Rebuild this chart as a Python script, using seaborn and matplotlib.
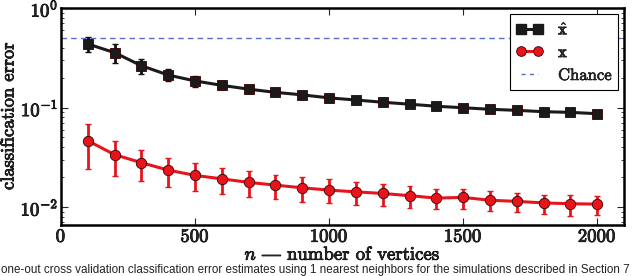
import numpy as np
import pandas as pd
import matplotlib
matplotlib.use("Agg")
import matplotlib.pyplot as plt
import matplotlib.patheffects as pe
from matplotlib.lines import Line2D
import seaborn as sns

n_vertices = [100, 200, 300, 400, 500, 600, 700, 800, 900, 1000,
              1100, 1200, 1300, 1400, 1500, 1600, 1700, 1800, 1900, 2000]

xhat_err = [0.435, 0.356, 0.263, 0.212, 0.185, 0.167, 0.153, 0.142, 0.134, 0.125,
            0.119, 0.113, 0.108, 0.103, 0.0995, 0.096, 0.0937, 0.0908, 0.0894, 0.0867]
xhat_lo = [0.359, 0.278, 0.217, 0.185, 0.162, 0.152, 0.141, 0.133, 0.127, 0.119,
           0.114, 0.109, 0.104, 0.0995, 0.0963, 0.0932, 0.091, 0.0884, 0.0872, 0.0847]
xhat_hi = [0.515, 0.431, 0.307, 0.244, 0.207, 0.183, 0.166, 0.152, 0.142, 0.131,
           0.124, 0.117, 0.112, 0.107, 0.103, 0.099, 0.0965, 0.0933, 0.0917, 0.0888]

x_err = [0.0464, 0.0336, 0.0279, 0.0235, 0.0208, 0.0192, 0.0177, 0.0166, 0.0156, 0.0148,
         0.0142, 0.0137, 0.0130, 0.0123, 0.0125, 0.0117, 0.0114, 0.0110, 0.0108, 0.0107]
x_lo = [0.0239, 0.0205, 0.0181, 0.0158, 0.0144, 0.0135, 0.0127, 0.0121, 0.0112, 0.0109,
        0.0106, 0.0103, 0.0098, 0.0095, 0.0096, 0.0092, 0.0089, 0.0085, 0.0081, 0.0083]
x_hi = [0.0683, 0.0464, 0.0374, 0.0310, 0.0275, 0.0249, 0.0229, 0.0211, 0.0202, 0.0190,
        0.0178, 0.0171, 0.0163, 0.0151, 0.0153, 0.0146, 0.0139, 0.0133, 0.0133, 0.0129]

chance = 0.5
series_labels = [r"$\hat{\mathbf{x}}$", r"$\mathbf{x}$", "Chance"]
x_label = r"$n$ $—$ number of vertices"
y_label = "classification error"
x_ticks = [0, 500, 1000, 1500, 2000]
caption = ("one-out cross validation classification error estimates using 1 nearest neighbors "
           "for the simulations described in Section 7")

sns.set_style("ticks")
plt.rcParams["font.family"] = ["cmr10", "DejaVu Serif"]
plt.rcParams["mathtext.fontset"] = "cm"
plt.rcParams["axes.formatter.use_mathtext"] = True

bold = [pe.withStroke(linewidth=0.6, foreground="black")]

fig = plt.figure(figsize=(6.4, 2.76), dpi=100)
ax = fig.add_axes([61 / 640, 1 - 225 / 276, (624 - 61) / 640, (225 - 8) / 276])

df = pd.DataFrame({
    "n": n_vertices * 2,
    "err": xhat_err + x_err,
    "series": [series_labels[0]] * len(n_vertices) + [series_labels[1]] * len(n_vertices),
})

nv = np.array(n_vertices)
cap = 11
ax.vlines(nv, xhat_lo, xhat_hi, color="#111111", lw=2.0, zorder=2)
ax.hlines(xhat_lo, nv - cap, nv + cap, color="#111111", lw=1.0, zorder=2)
ax.hlines(xhat_hi, nv - cap, nv + cap, color="#111111", lw=1.0, zorder=2)
ax.vlines(nv, x_lo, x_hi, color="#e8141c", lw=2.0, zorder=2)
ax.hlines(x_lo, nv - cap, nv + cap, color="#e8141c", lw=1.0, zorder=2)
ax.hlines(x_hi, nv - cap, nv + cap, color="#e8141c", lw=1.0, zorder=2)

sns.lineplot(data=df, x="n", y="err", hue="series", style="series",
             palette=["#1a1a1a", "#e8141c"], markers=["s", "o"], dashes=False,
             markersize=7.5, linewidth=2.2, markeredgecolor="#330000", markeredgewidth=0.6,
             ax=ax, legend=False, zorder=3)

ax.axhline(chance, color="#5570c8", lw=1.0, ls=(0, (4, 3)), zorder=1)

ax.set_yscale("log")
ax.set_xlim(0, 2100)
ax.set_ylim(0.0066, 1.0)
ax.set_xticks(x_ticks)
ax.tick_params(axis="both", which="both", direction="in", top=True, right=True,
               labelsize=13.5, pad=2)
ax.tick_params(axis="both", which="major", length=5, width=0.8)
ax.tick_params(axis="y", which="minor", length=2.5, width=0.6)
for s in ax.spines.values():
    s.set_linewidth(1.8)
    s.set_color("black")
for lab in ax.get_xticklabels() + ax.get_yticklabels():
    lab.set_path_effects(bold)

ax.set_xlabel(x_label, fontsize=13.5, labelpad=0, path_effects=bold)
ax.set_ylabel(y_label, fontsize=13.3, labelpad=3, path_effects=bold)

handles = [
    Line2D([], [], color="#1a1a1a", marker="s", markersize=6.5, lw=2.2),
    Line2D([], [], color="#e8141c", marker="o", markersize=7, lw=2.2,
           markeredgecolor="#330000", markeredgewidth=0.6),
    Line2D([], [], color="#5570c8", lw=1.0, ls=(0, (3, 3))),
]
leg = ax.legend(handles, series_labels, loc="upper right", fontsize=12,
                numpoints=2, fancybox=False, framealpha=1, edgecolor="black",
                handlelength=1.6, handletextpad=0.9, borderpad=0.4, labelspacing=0.45,
                borderaxespad=0.35)
leg.get_frame().set_linewidth(0.8)
for t in leg.get_texts():
    t.set_path_effects([pe.withStroke(linewidth=0.4, foreground="black")])

fig.text(0.002, 1 - 270 / 276, caption, family=["Liberation Sans"],
         fontsize=8.4, ha="left", va="center", color="#222222")

fig.savefig("out.png", dpi=100)
